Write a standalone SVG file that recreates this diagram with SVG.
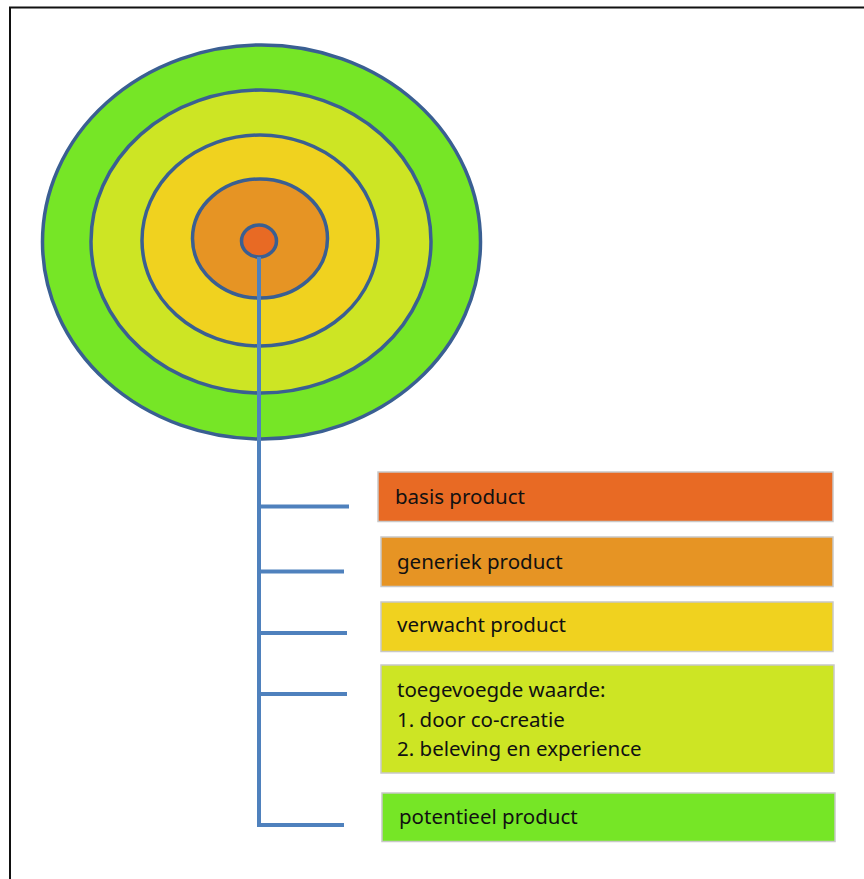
<svg xmlns="http://www.w3.org/2000/svg" width="864" height="879" viewBox="0 0 864 879">
  <style>
    .ring { stroke: #3a5f92; stroke-width: 3.5; }
    .conn { fill: none; stroke: #4f81bd; stroke-width: 4; stroke-linecap: butt; stroke-linejoin: miter; }
    .box { stroke: #c8c8c8; stroke-width: 1.5; }
    .label { font-family: "Noto Sans", "Open Sans", sans-serif; font-size: 20.5px; fill: #111111; }
  </style>
  <rect x="0" y="0" width="864" height="879" fill="#ffffff"/>
  <!-- outer frame -->
  <path d="M10,879 V7.5 H864" fill="none" stroke="#111111" stroke-width="2"/>

  <!-- concentric product levels -->
  <g id="levels">
    <ellipse id="ring-potentieel" class="ring" cx="261.5" cy="242" rx="219" ry="197" fill="#76e626"/>
    <ellipse id="ring-toegevoegd" class="ring" cx="261" cy="241.5" rx="170" ry="151.5" fill="#cde524"/>
    <ellipse id="ring-verwacht" class="ring" cx="260" cy="240.5" rx="118" ry="105.5" fill="#f0d21f"/>
    <ellipse id="ring-generiek" class="ring" cx="260" cy="238.5" rx="67.5" ry="59.5" fill="#e69424"/>
    <ellipse id="ring-basis" class="ring" cx="259" cy="241" rx="17.5" ry="16" fill="#e86a24"/>
  </g>

  <!-- connectors from centre to labels -->
  <g id="connectors">
    <path class="conn" d="M259,257 V825 H344"/>
    <path class="conn" d="M259,506.5 H349"/>
    <path class="conn" d="M259,571.5 H344"/>
    <path class="conn" d="M259,633 H347"/>
    <path class="conn" d="M259,694 H347"/>
  </g>

  <g id="basis">
    <rect class="box" x="378" y="472" width="455" height="49.5" fill="#e86a24"/>
    <text class="label" x="395" y="503.5">basis product</text>
  </g>
  <g id="generiek">
    <rect class="box" x="381" y="537" width="452" height="49.5" fill="#e69424"/>
    <text class="label" x="397" y="568.5">generiek product</text>
  </g>
  <g id="verwacht">
    <rect class="box" x="381" y="602" width="452" height="49.5" fill="#f0d21f"/>
    <text class="label" x="397" y="632">verwacht product</text>
  </g>
  <g id="toegevoegd">
    <rect class="box" x="381" y="665" width="453" height="108" fill="#cde524"/>
    <text class="label" x="397" y="697">toegevoegde waarde:</text>
    <text class="label" x="397" y="726.5">1. door co-creatie</text>
    <text class="label" x="397" y="755.5">2. beleving en experience</text>
  </g>
  <g id="potentieel">
    <rect class="box" x="382" y="793" width="453" height="48.5" fill="#76e626"/>
    <text class="label" x="399" y="823.5">potentieel product</text>
  </g>
</svg>
